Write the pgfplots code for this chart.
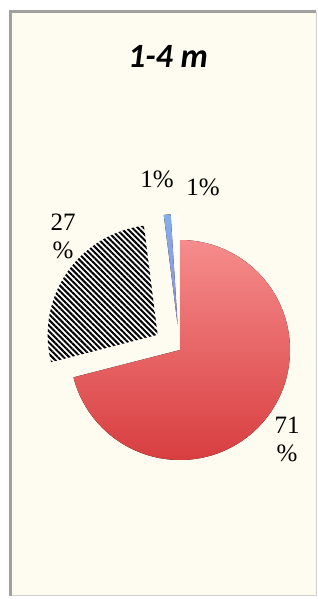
\documentclass[border=0pt]{standalone}
\usepackage{pgfplots}
\pgfplotsset{compat=1.18}
\usepackage{fontspec}
\setmainfont{Liberation Serif}
\newfontfamily\titlefont{Carlito}
\usetikzlibrary{patterns.meta}
\definecolor{cream}{RGB}{254,252,240}
\definecolor{framegray}{RGB}{160,160,160}
\definecolor{redtop}{RGB}{246,140,140}
\definecolor{redbot}{RGB}{216,62,64}
\definecolor{bluetop}{RGB}{130,175,235}
\definecolor{bluebot}{RGB}{150,140,220}
% #1 cumulative start (%), #2 value (%), #3 explode (px), #4 style
\newcommand\pieslice[4]{%
  \pgfmathsetmacro\sa{90-3.6*#1}%
  \pgfmathsetmacro\ea{90-3.6*(#1+#2)}%
  \pgfmathsetmacro\ma{(\sa+\ea)/2}%
  \pgfmathsetmacro\cx{180+#3*cos(\ma)}%
  \pgfmathsetmacro\cy{249+#3*sin(\ma)}%
  \pgfmathsetmacro\px{\cx+110*cos(\sa)}%
  \pgfmathsetmacro\py{\cy+110*sin(\sa)}%
  \edef\temp{\noexpand\fill[\unexpanded{#4}] (axis cs:\cx,\cy) -- (axis cs:\px,\py) arc[start angle=\sa, end angle=\ea, radius=110bp] -- cycle;}%
  \temp
}
\begin{document}
\begin{tikzpicture}
\begin{axis}[
  hide axis, scale only axis,
  width=318bp, height=599bp,
  xmin=0, xmax=318, ymin=0, ymax=599,
  clip=true,
]
\addplot[draw=none] coordinates {(0,0) (318,599)};
\fill[white] (axis cs:0,0) rectangle (axis cs:318,599);
\fill[cream] (axis cs:10,3) rectangle (axis cs:316,587);
\draw[framegray!50, line width=0.8bp] (axis cs:10,4) -- (axis cs:316,4) -- (axis cs:316,587);
\draw[framegray, line width=2.5bp] (axis cs:10.5,3) -- (axis cs:10.5,587.5) -- (axis cs:316,587.5);
% slices
\pieslice{0}{71}{0}{top color=redtop, bottom color=redbot}
\pieslice{71}{27}{27}{preaction={fill=white}, pattern={Lines[angle=-45,distance=4bp,line width=2bp]}, pattern color=black}
\pieslice{98}{1}{26}{top color=bluetop, bottom color=bluebot}
\pieslice{99}{1}{26}{fill=white, opacity=0.6}
% labels
\node[font=\fontsize{25bp}{29bp}\selectfont, inner sep=0pt] at (axis cs:157,420) {1\%};
\node[font=\fontsize{25bp}{29bp}\selectfont, inner sep=0pt] at (axis cs:203,412) {1\%};
\node[font=\fontsize{25bp}{29bp}\selectfont, inner sep=0pt, align=center] at (axis cs:63,363) {27\\[-1bp]\%};
\node[font=\fontsize{25bp}{29bp}\selectfont, inner sep=0pt, align=center] at (axis cs:287,160) {71\\[-1bp]\%};
\node[font=\titlefont\bfseries\itshape\fontsize{34bp}{40bp}\selectfont, inner sep=0pt] at (axis cs:168,543) {1-4 m};
\end{axis}
\end{tikzpicture}
\end{document}
